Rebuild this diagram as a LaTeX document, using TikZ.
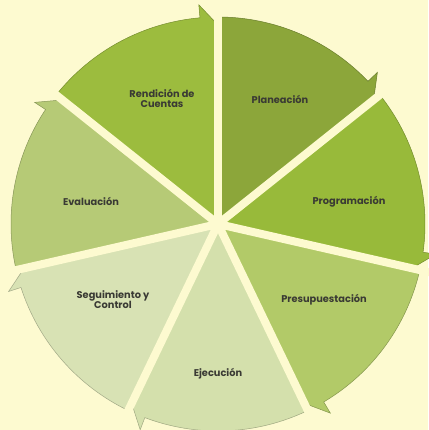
\documentclass[tikz,border=0pt]{standalone}
\usepackage{fontspec}
\setmainfont{Poppins}
\definecolor{fondo}{RGB}{253,250,208}
\definecolor{textogris}{RGB}{58,58,52}
\definecolor{cPlan}{RGB}{140,166,58}
\definecolor{cProg}{RGB}{152,186,58}
\definecolor{cPres}{RGB}{178,202,104}
\definecolor{cEjec}{RGB}{212,224,172}
\definecolor{cSeg}{RGB}{216,226,180}
\definecolor{cEval}{RGB}{182,202,118}
\definecolor{cRend}{RGB}{156,188,62}
\begin{document}
\begin{tikzpicture}[x=1pt,y=1pt]
\tikzset{
    etiqueta/.style={text centered, align=center, text=textogris, font=\fontsize{9.8}{10}\selectfont\bfseries},
    cuna/.style={draw=#1!75!black, line width=0.5pt, fill=#1},
    hueco/.style={draw=fondo, line width=8pt}
}
% fondo
\fill[fondo] (-218,-206) rectangle (210,224);
\useasboundingbox (-218,-206) rectangle (210,224);
\coordinate (centro) at (0,0);
% cunas, en el sentido del reloj
\filldraw[cuna=cPlan] (centro) -- (90:207) arc[start angle=90, end angle=43.57, radius=207] -- (43.57:220) -- (38.57:199) -- cycle;
\filldraw[cuna=cProg] (centro) -- (38.57:207) arc[start angle=38.57, end angle=-7.86, radius=207] -- (-7.86:220) -- (-12.86:199) -- cycle;
\filldraw[cuna=cPres] (centro) -- (-12.86:207) arc[start angle=-12.86, end angle=-59.29, radius=207] -- (-59.29:220) -- (-64.29:199) -- cycle;
\filldraw[cuna=cEjec] (centro) -- (-64.29:207) arc[start angle=-64.29, end angle=-110.71, radius=207] -- (-110.71:220) -- (-115.71:199) -- cycle;
\filldraw[cuna=cSeg] (centro) -- (-115.71:207) arc[start angle=-115.71, end angle=-162.14, radius=207] -- (-162.14:220) -- (-167.14:199) -- cycle;
\filldraw[cuna=cEval] (centro) -- (-167.14:207) arc[start angle=-167.14, end angle=-213.57, radius=207] -- (-213.57:220) -- (-218.57:199) -- cycle;
\filldraw[cuna=cRend] (centro) -- (141.43:207) arc[start angle=141.43, end angle=95, radius=207] -- (95:220) -- (90:199) -- cycle;
% separaciones
\draw[hueco] (centro) -- (90:230);
\draw[hueco] (centro) -- (38.57:230);
\draw[hueco] (centro) -- (-12.86:230);
\draw[hueco] (centro) -- (-64.29:230);
\draw[hueco] (centro) -- (-115.71:230);
\draw[hueco] (centro) -- (-167.14:230);
\draw[hueco] (centro) -- (141.43:230);
\fill[fondo] (centro) circle (7);
% textos
\node[etiqueta] (plan) at (62,125) {Planeación};
\node[etiqueta] (prog) at (131,22) {Programación};
\node[etiqueta] (pres) at (106,-76) {Presupuestación};
\node[etiqueta] (ejec) at (0,-150) {Ejecución};
\node[etiqueta] (seg) at (-105,-76) {Seguimiento y\\Control};
\node[etiqueta] (eval) at (-127,23) {Evaluación};
\node[etiqueta] (rend) at (-56,126) {Rendición de\\Cuentas};
\end{tikzpicture}
\end{document}
